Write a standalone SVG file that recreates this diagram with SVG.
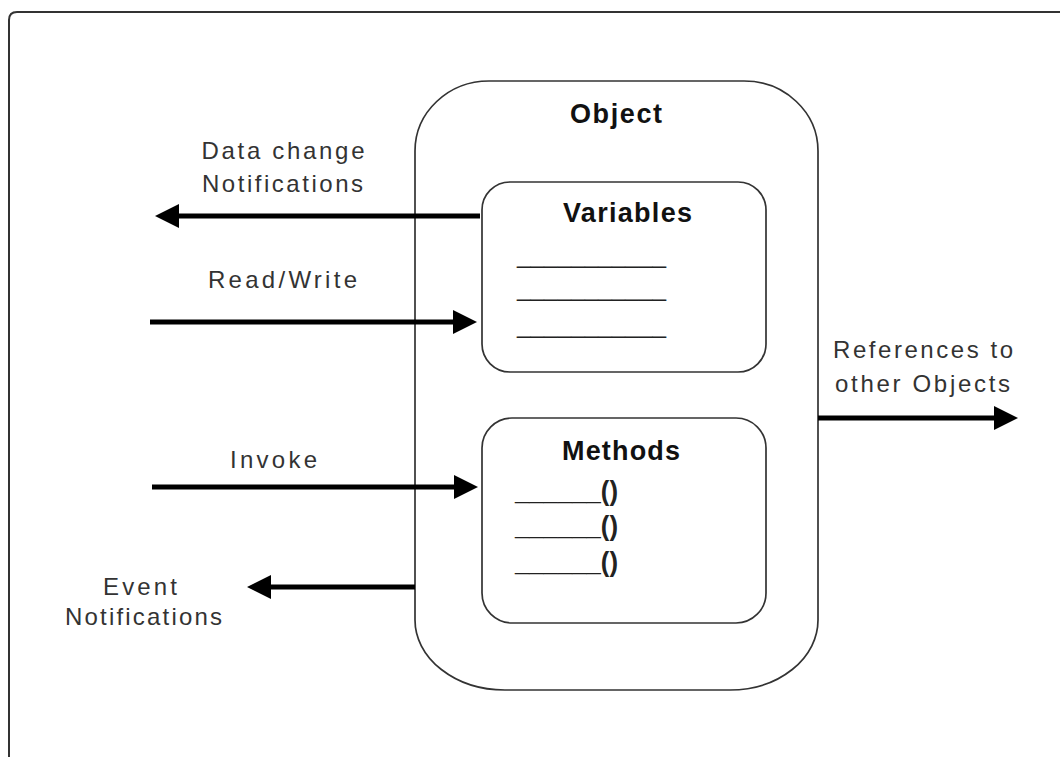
<svg xmlns="http://www.w3.org/2000/svg" width="1060" height="757" viewBox="0 0 1060 757">
  <style>
    .box { fill: none; stroke: #333; stroke-width: 1.7; }
    .arrow { stroke: #000; stroke-width: 5; fill: none; }
    .lbl { font-family: "Liberation Sans", Arial, sans-serif; font-size: 24px; fill: #333; text-anchor: middle; }
    .ttl { font-family: "Liberation Sans", Arial, sans-serif; font-size: 27px; font-weight: bold; fill: #111; text-anchor: middle; }
    .var { font-family: "Liberation Sans", Arial, sans-serif; font-size: 24px; fill: #222; }
    .mth { font-family: "Liberation Sans", Arial, sans-serif; font-size: 28px; font-weight: bold; fill: #222; }
  </style>
  <defs>
    <marker id="head" markerUnits="userSpaceOnUse" markerWidth="26" markerHeight="26" refX="1" refY="12" orient="auto">
      <path d="M0,0 L24,12 L0,24 Z" fill="#000"/>
    </marker>
  </defs>
  <rect width="1060" height="757" fill="#fff"/>
  <path d="M 9,757 V 20 Q 9,12 17,12 H 1060" fill="none" stroke="#333" stroke-width="2"/>

  <g id="object">
    <path class="box" d="M 489,81 H 744 A 74 70 0 0 1 818,151 V 620 A 88 70 0 0 1 730,690 H 505 A 90 70 0 0 1 415,620 V 151 A 74 70 0 0 1 489,81 Z"/>
    <text class="ttl" x="616" y="123" textLength="92" lengthAdjust="spacing">Object</text>
  </g>

  <g id="variables">
    <rect class="box" x="482" y="182" width="284" height="190" rx="28" ry="28"/>
    <text class="ttl" x="627.5" y="222" textLength="129" lengthAdjust="spacing">Variables</text>
    <text class="var" x="517" y="263" textLength="149" lengthAdjust="spacingAndGlyphs">___________</text>
    <text class="var" x="517" y="296" textLength="149" lengthAdjust="spacingAndGlyphs">___________</text>
    <text class="var" x="517" y="333" textLength="149" lengthAdjust="spacingAndGlyphs">___________</text>
  </g>

  <g id="methods">
    <rect class="box" x="482" y="418" width="284" height="205" rx="30" ry="30"/>
    <text class="ttl" x="621" y="460" textLength="118" lengthAdjust="spacing">Methods</text>
    <text class="mth" x="515" y="500" textLength="103" lengthAdjust="spacingAndGlyphs">______()</text>
    <text class="mth" x="515" y="535" textLength="103" lengthAdjust="spacingAndGlyphs">______()</text>
    <text class="mth" x="515" y="571" textLength="103" lengthAdjust="spacingAndGlyphs">______()</text>
  </g>

  <g id="connectors">
    <line class="arrow" x1="480" y1="216" x2="178" y2="216" marker-end="url(#head)"/>
    <line class="arrow" x1="150" y1="322" x2="454" y2="322" marker-end="url(#head)"/>
    <line class="arrow" x1="152" y1="487" x2="455" y2="487" marker-end="url(#head)"/>
    <line class="arrow" x1="415" y1="587" x2="270" y2="587" marker-end="url(#head)"/>
    <line class="arrow" x1="818" y1="418" x2="995" y2="418" marker-end="url(#head)"/>
  </g>

  <g id="labels">
    <text class="lbl" x="283" y="159" textLength="163" lengthAdjust="spacing">Data change</text>
    <text class="lbl" x="282.5" y="192" textLength="161" lengthAdjust="spacing">Notifications</text>
    <text class="lbl" x="282.5" y="288" textLength="149" lengthAdjust="spacing">Read/Write</text>
    <text class="lbl" x="273.5" y="468" textLength="87" lengthAdjust="spacing">Invoke</text>
    <text class="lbl" x="140" y="595" textLength="74" lengthAdjust="spacing">Event</text>
    <text class="lbl" x="143.5" y="625" textLength="157" lengthAdjust="spacing">Notifications</text>
    <text class="lbl" x="923" y="358" textLength="180" lengthAdjust="spacing">References to</text>
    <text class="lbl" x="922.5" y="392" textLength="175" lengthAdjust="spacing">other Objects</text>
  </g>
</svg>
